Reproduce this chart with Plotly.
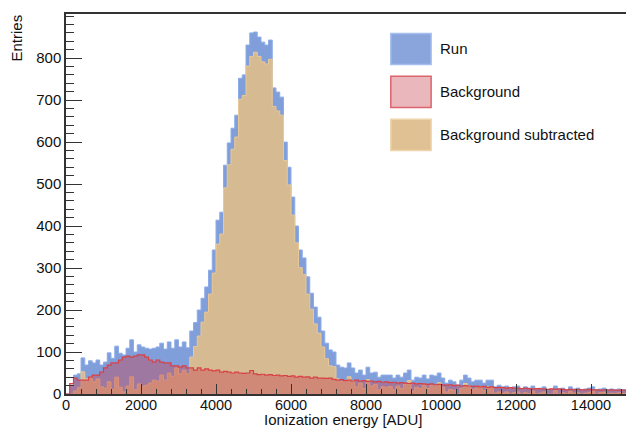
import numpy as np
import plotly.graph_objects as go

bin_width = 100  # ADU per bin, first bin starts at 0

run_counts = [
    0, 20, 45, 48, 86, 69, 79, 74, 81, 69,
    76, 98, 85, 114, 97, 93, 109, 129, 100, 117,
    112, 109, 107, 109, 112, 121, 107, 124, 109, 129,
    112, 124, 110, 150, 170, 200, 228, 255, 295, 343,
    414, 433, 545, 598, 633, 664, 752, 760, 831, 860,
    862, 850, 838, 831, 843, 729, 719, 707, 600, 540,
    469, 400, 343, 324, 279, 240, 207, 183, 150, 121,
    105, 100, 69, 64, 62, 74, 62, 50, 57, 45,
    64, 50, 52, 40, 45, 45, 45, 38, 45, 40,
    50, 57, 33, 40, 38, 45, 36, 45, 43, 50,
    38, 26, 33, 29, 21, 33, 45, 38, 29, 33,
    33, 26, 33, 33, 17, 21, 17, 19, 14, 17,
    19, 12, 17, 14, 19, 12, 14, 17, 10, 12,
    19, 12, 14, 10, 17, 12, 14, 10, 12, 14,
    17, 10, 12, 14, 10, 12, 10, 12, 10, 10,
]

background_counts = [
    0, 25, 38, 33, 33, 33, 40, 45, 45, 52,
    62, 69, 74, 74, 81, 88, 90, 88, 90, 93,
    93, 88, 81, 76, 81, 76, 74, 74, 67, 67,
    64, 67, 62, 62, 57, 62, 57, 60, 57, 55,
    57, 52, 54, 52, 50, 52, 50, 49, 50, 56,
    48, 46, 47, 45, 46, 44, 45, 43, 44, 42,
    43, 40, 42, 40, 41, 38, 40, 38, 38, 37,
    38, 35, 33, 34, 32, 33, 31, 33, 31, 32,
    30, 31, 29, 30, 28, 29, 27, 28, 26, 27,
    26, 25, 26, 24, 25, 24, 23, 24, 22, 23,
    22, 21, 22, 20, 21, 19, 20, 19, 18, 19,
    17, 18, 16, 17, 15, 16, 15, 14, 15, 14,
    14, 13, 14, 13, 12, 13, 12, 12, 11, 12,
    11, 12, 11, 10, 11, 10, 11, 10, 10, 11,
    10, 10, 9, 10, 9, 10, 9, 9, 9, 9,
]

subtracted_counts = [
    0, 0, 7, 15, 53, 36, 39, 29, 36, 17,
    14, 29, 11, 40, 16, 5, 19, 41, 10, 24,
    19, 21, 26, 33, 31, 45, 33, 50, 42, 62,
    48, 57, 48, 88, 113, 138, 171, 195, 238, 288,
    357, 381, 491, 546, 583, 612, 702, 711, 781, 804,
    814, 804, 791, 786, 797, 685, 674, 664, 556, 498,
    426, 360, 301, 284, 238, 202, 167, 145, 112, 84,
    67, 65, 36, 30, 30, 41, 31, 17, 26, 13,
    34, 19, 23, 10, 17, 16, 18, 10, 19, 13,
    24, 32, 7, 16, 13, 21, 13, 21, 21, 27,
    16, 5, 11, 9, 0, 14, 25, 19, 11, 14,
    16, 8, 17, 16, 2, 5, 2, 5, 0, 3,
    5, 0, 3, 1, 7, 0, 2, 5, 0, 0,
    8, 0, 3, 0, 6, 2, 3, 0, 2, 3,
    7, 0, 3, 4, 1, 2, 1, 3, 1, 1,
]

x_ticks = [0, 2000, 4000, 6000, 8000, 10000, 12000, 14000]
y_ticks = [0, 100, 200, 300, 400, 500, 600, 700, 800]

legend_items = [
    ("Run", "rgb(138,165,220)", "rgb(165,190,238)"),
    ("Background", "rgb(234,183,188)", "rgb(220,100,108)"),
    ("Background subtracted", "rgb(224,193,147)", "rgb(238,212,170)"),
]

FONT = "Liberation Sans, Arial, Helvetica, sans-serif"

edges = np.arange(len(run_counts) + 1) * bin_width


def step_xy(counts):
    # hv step: one point per bin left edge plus closing point at last edge
    y = list(counts) + [counts[-1]]
    return edges, y


fig = go.Figure()

x, y = step_xy(run_counts)
fig.add_trace(go.Scatter(
    x=x, y=y, mode="lines", line_shape="hv",
    line=dict(color="rgb(140,172,232)", width=1),
    fill="tozeroy", fillcolor="rgb(128,158,218)",
    showlegend=False, hoverinfo="skip",
))

x, y = step_xy(subtracted_counts)
fig.add_trace(go.Scatter(
    x=x, y=y, mode="lines", line_shape="hv",
    line=dict(color="rgb(232,200,150)", width=1),
    fill="tozeroy", fillcolor="rgb(214,187,146)",
    showlegend=False, hoverinfo="skip",
))

x, y = step_xy(background_counts)
fig.add_trace(go.Scatter(
    x=x, y=y, mode="lines", line_shape="hv",
    line=dict(color="rgb(215,65,70)", width=1.2),
    fill="tozeroy", fillcolor="rgba(200,70,80,0.42)",
    showlegend=False, hoverinfo="skip",
))

# hand-made legend with big ROOT-like boxes
box_x0, box_x1 = 0.580, 0.652
box_tops = [0.949, 0.836, 0.723]
box_h = 0.082
for (label, fill, edge), top in zip(legend_items, box_tops):
    fig.add_shape(type="rect", xref="paper", yref="paper",
                  x0=box_x0, x1=box_x1, y0=top - box_h, y1=top,
                  fillcolor=fill, line=dict(color=edge, width=1.5))
    fig.add_annotation(xref="paper", yref="paper", x=0.665, y=top - box_h / 2,
                       text=label, showarrow=False, xanchor="left", yanchor="middle",
                       font=dict(family=FONT, size=15, color="#111"))

fig.add_annotation(xref="paper", yref="paper", x=-0.089, y=1.003,
                   text="Entries", textangle=-90, showarrow=False,
                   xanchor="center", yanchor="top",
                   font=dict(family=FONT, size=15, color="#111"))
fig.add_annotation(xref="paper", yref="paper", x=0.495, y=-0.067,
                   text="Ionization energy [ADU]", showarrow=False,
                   xanchor="center", yanchor="middle",
                   font=dict(family=FONT, size=15, color="#111"))

fig.update_layout(
    width=626, height=429,
    margin=dict(l=66, r=0, t=14, b=35),
    paper_bgcolor="white", plot_bgcolor="white",
    font=dict(family=FONT, size=15, color="#111"),
    xaxis=dict(
        range=[0, 14933], tickvals=x_ticks, ticktext=[str(v) for v in x_ticks],
        ticks="inside", ticklen=10, tickcolor="#333", tickfont=dict(size=14.5),
        ticklabelstandoff=-3,
        minor=dict(dtick=400, ticks="inside", ticklen=5, tickcolor="#333"),
        showline=True, linecolor="#333", linewidth=1.5, mirror=True,
        showgrid=False, zeroline=False,
    ),
    yaxis=dict(
        range=[0, 905], tickvals=y_ticks, ticks="inside", ticklen=16,
        tickcolor="#333",
        minor=dict(dtick=20, ticks="inside", ticklen=8, tickcolor="#333"),
        showline=True, linecolor="#333", linewidth=1.5,
        showgrid=False, zeroline=False,
    ),
)

# drop the default page margin so the figure fills the window exactly
fig.write_html(
    "out.html",
    config={"displayModeBar": False},
    post_script="document.body.style.margin='0';document.body.style.overflow='hidden';",
)
